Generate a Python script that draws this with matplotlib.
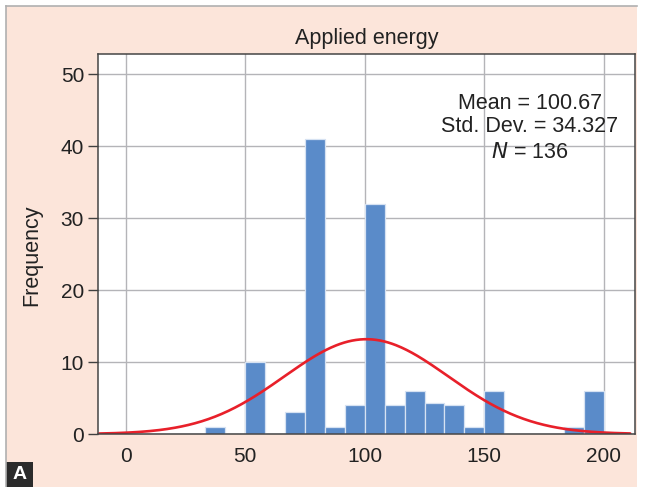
import matplotlib.pyplot as plt
import matplotlib.patches as patches
from matplotlib.lines import Line2D
import numpy as np

plt.rcParams['font.family'] = ['Liberation Sans', 'DejaVu Sans']

# histogram bins (left edges) and frequencies
bin_width = 25 / 3
bin_lefts = [33.33, 41.67, 50.0, 58.33, 66.67, 75.0, 83.33, 91.67, 100.0, 108.33,
             116.67, 125.0, 133.33, 141.67, 150.0, 158.33, 166.67, 175.0, 183.33, 191.67]
counts = [1, 0, 10, 0, 3, 41, 1, 4, 32, 4,
          6, 4.3, 4, 1, 6, 0, 0, 0, 1, 6]

# summary stats shown in the chart
mean = 100.67
sd = 34.327
n = 136

x_ticks = [0, 50, 100, 150, 200]
y_ticks = [0, 10, 20, 30, 40, 50]

peach = '#fce5da'
bar_col = '#5a8bc9'

fig = plt.figure(figsize=(6.53, 4.87), dpi=100, facecolor='white')

# peach panel with thin grey border on top/left
W, H = 653, 487
fig.patches.append(patches.Rectangle((6 / W, 0), 631 / W, 481 / H,
                                     transform=fig.transFigure, facecolor=peach,
                                     edgecolor='none', zorder=-10))
fig.lines.append(Line2D([6 / W, 637 / W], [481 / H, 481 / H], transform=fig.transFigure,
                        color='#b0b0b0', lw=1.2))
fig.lines.append(Line2D([6 / W, 6 / W], [0, 481 / H], transform=fig.transFigure,
                        color='#b0b0b0', lw=1.2))

ax = fig.add_axes([98 / W, 1 - 434 / H, 537 / W, 380 / H])
ax.set_facecolor('white')

ax.bar(bin_lefts, counts, width=bin_width, align='edge', color=bar_col,
       edgecolor='#d6e2f2', linewidth=0.9, zorder=3)

# fitted normal curve
xs = np.linspace(-11, 211, 400)
ys = n * bin_width / (sd * np.sqrt(2 * np.pi)) * np.exp(-0.5 * ((xs - mean) / sd) ** 2)
ax.plot(xs, ys, color='#e8202a', lw=1.9, zorder=4, solid_capstyle='round')

ax.set_xlim(-11.5, 213)
ax.set_ylim(0, 52.8)
ax.set_xticks(x_ticks)
ax.set_yticks(y_ticks)
ax.tick_params(axis='x', length=0, pad=9, labelsize=15, colors='#222222')
ax.tick_params(axis='y', length=7, width=1, pad=3, labelsize=15, colors='#404040',
               labelcolor='#222222', direction='out')
ax.grid(True, color='#b4b4b8', lw=1, zorder=0)
ax.set_axisbelow(True)
for s in ax.spines.values():
    s.set_color('#454545')
    s.set_linewidth(1.1)
    s.set_zorder(5)

ax.set_title('Applied energy', fontsize=15.5, color='#222222', pad=7)
ax.set_ylabel('Frequency', fontsize=15.5, color='#222222')
ax.yaxis.set_label_coords(-0.104, 0.471)

ax.text(0.804, 0.871, 'Mean = 100.67', transform=ax.transAxes, ha='center', va='center',
        fontsize=15.5, color='#222222', zorder=6)
ax.text(0.804, 0.808, 'Std. Dev. = 34.327', transform=ax.transAxes, ha='center',
        va='center', fontsize=15.5, color='#222222', zorder=6)
ax.text(0.804, 0.742, r'$\it{N}$ = 136', transform=ax.transAxes, ha='center', va='center',
        fontsize=15.5, color='#222222', zorder=6)

# panel label
fig.patches.append(patches.Rectangle((6 / W, 0), 27 / W, 25 / H, transform=fig.transFigure,
                                     facecolor='#2b2b2b', edgecolor='none'))
fig.text(19.5 / W, 12.5 / H, 'A', ha='center', va='center', color='white',
         fontsize=14, fontweight='bold')

fig.savefig('out.png', dpi=100, facecolor=fig.get_facecolor())
